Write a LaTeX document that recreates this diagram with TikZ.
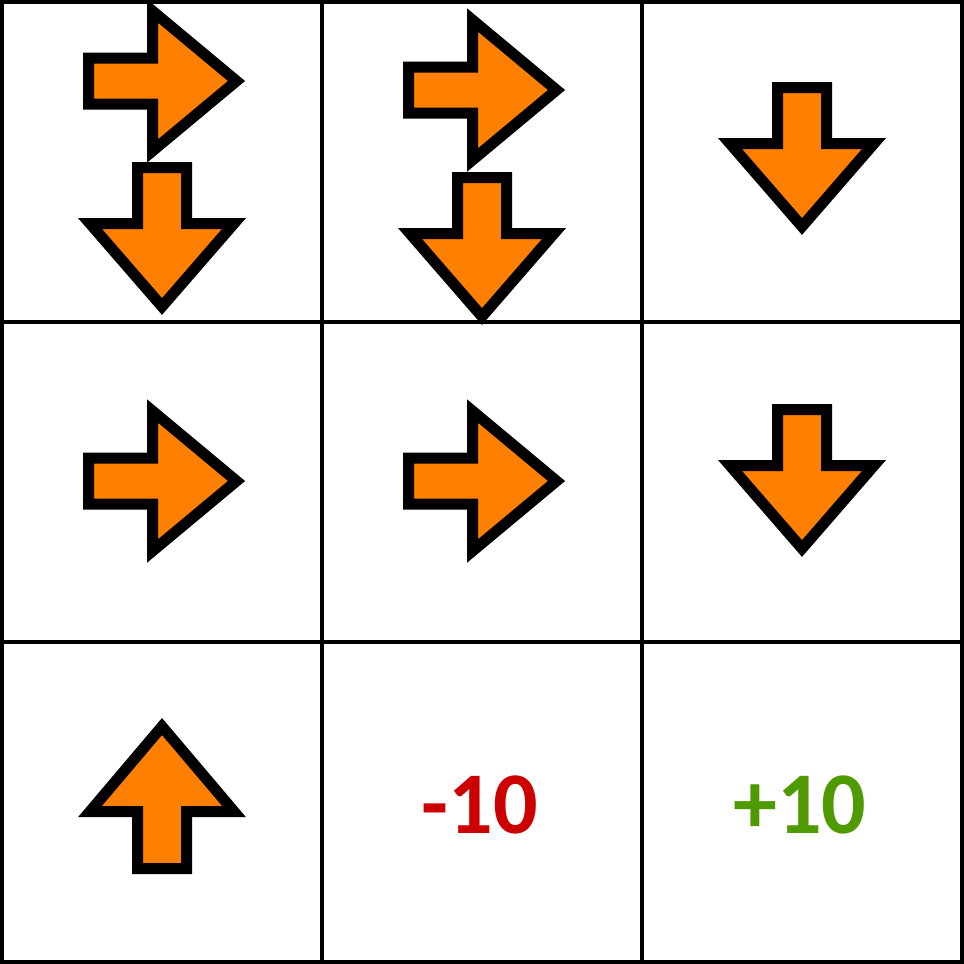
\documentclass[tikz,border=0pt]{standalone}
\usepackage{fontspec}
\setmainfont{Carlito}
\definecolor{arrorange}{HTML}{FF8000}
\definecolor{negred}{HTML}{CC0000}
\definecolor{posgreen}{HTML}{4E9A00}
\tikzset{
  arrowbody/.style={draw=black, fill=arrorange, line width=11pt, miter limit=10},
  gridline/.style={draw=black, line width=4pt},
  rarrow/.pic={\path[arrowbody] (-64,-23) -- (0,-23) -- (0,-70) -- (84,0) -- (0,70) -- (0,23) -- (-64,23) -- cycle;},
  darrow/.pic={\path[arrowbody] (-24.5,-56) -- (-24.5,0) -- (-72,0) -- (0,83) -- (72,0) -- (24.5,0) -- (24.5,-56) -- cycle;},
  uarrow/.pic={\path[arrowbody] (-24.5,57) -- (-24.5,0) -- (-72,0) -- (0,-85) -- (72,0) -- (24.5,0) -- (24.5,57) -- cycle;},
  reward/.style={font=\bfseries\fontsize{88}{88}\selectfont, inner sep=0pt, anchor=base}
}
\begin{document}
\begin{tikzpicture}[x=1pt,y=-1pt]
\useasboundingbox (0,0) rectangle (964,964);
\fill[white] (0,0) rectangle (964,964);
% arrows
\pic at (152.5,81) {rarrow};
\pic at (162,223.5) {darrow};
\pic at (472.5,90) {rarrow};
\pic at (482,233.5) {darrow};
\pic at (802,143.5) {darrow};
\pic at (152.5,481) {rarrow};
\pic at (472.5,481) {rarrow};
\pic at (802,465.5) {darrow};
\pic at (162,811.5) {uarrow};
% rewards
\node[reward, text=negred] (neg) at (480,833) {-10};
\node[reward, text=posgreen] (pos) at (800,833) {+10};
% grid
\draw[gridline] (2,2) rectangle (962,962);
\draw[gridline] (322,2) -- (322,962);
\draw[gridline] (642,2) -- (642,962);
\draw[gridline] (2,322) -- (962,322);
\draw[gridline] (2,642) -- (962,642);
\end{tikzpicture}
\end{document}
